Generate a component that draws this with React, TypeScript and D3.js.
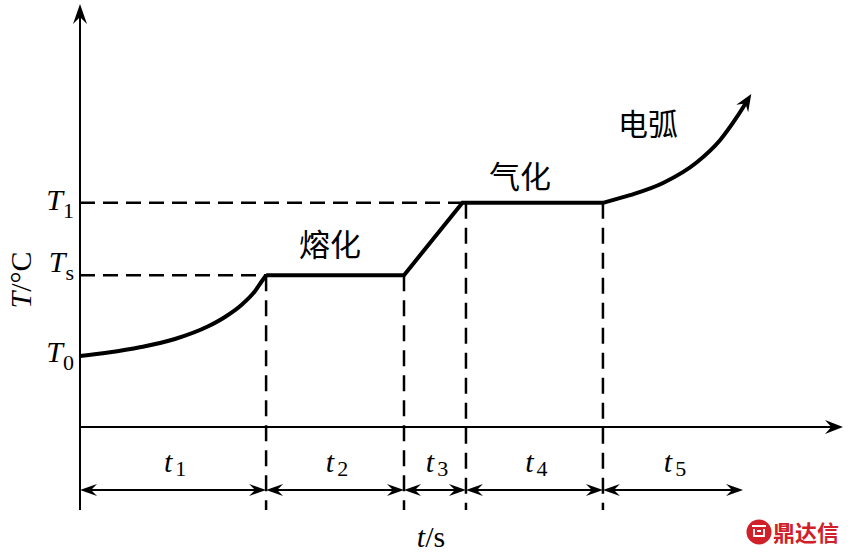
import * as d3 from "d3";

// temperature levels on the y axis (arbitrary units)
const levelNames = ["0", "s", "1"];
const levelTemps = [16.9, 35.9, 53.0];

// end time of each stage t1..t5 (arbitrary units)
const phaseEnds = [10, 17.41, 20.74, 28.1, 35.63];
const phaseSubs = ["1", "2", "3", "4", "5"];
// level reached at each inner boundary (index into levelTemps)
const boundaryLevel = [1, 1, 2, 2];

// heating curve T0 -> Ts
const heatTime = [0, 1.52, 3.28, 5.1, 6.89, 7.79, 8.69, 9.4, 9.76, 10];
const heatTemp = [16.8, 17.6, 18.9, 20.8, 23.8, 26.0, 28.9, 32.1, 34.4, 35.9];

// melting plateau, ramp, vaporisation plateau
const meltTime = [10, 17.41, 20.55, 28.1];
const meltTemp = [35.9, 35.9, 53.0, 53.0];

// arc stage
const arcTime = [28.1, 29.55, 31.33, 33.15, 34.39, 35.3, 35.9];
const arcTemp = [53.0, 54.8, 57.7, 62.6, 67.8, 73.3, 77.5];

const W = 848;
const H = 555;

const x = d3.scaleLinear().domain([0, 41]).range([80, 843]);
const y = d3.scaleLinear().domain([0, 100]).range([427, 4]);

const dimY = 490;
const dimBottom = 510;
// baseline shift of each level label
const labelShift = [6, -3, 7];

const serif = "'Liberation Serif', 'Times New Roman', serif";
const cjk = "'Noto Sans CJK SC', sans-serif";

// stealth style arrow head, tip at (tx,ty) pointing along angle a
function arrowHead(tx: number, ty: number, a: number, len: number, half: number) {
  const c = Math.cos(a);
  const s = Math.sin(a);
  const pt = (u: number, v: number) => [tx + u * c - v * s, ty + u * s + v * c];
  const p = [pt(0, 0), pt(-len, -half), pt(-len * 0.65, 0), pt(-len, half)];
  return `M${p.map((q) => q.join(",")).join("L")}Z`;
}

const pts = (ts: number[], vs: number[]) => ts.map((t, i) => [t, vs[i]] as [number, number]);

export default function App() {
  const smooth = d3
    .line<[number, number]>()
    .x((d) => x(d[0]))
    .y((d) => y(d[1]))
    .curve(d3.curveMonotoneX);
  const straight = d3
    .line<[number, number]>()
    .x((d) => x(d[0]))
    .y((d) => y(d[1]));

  const bounds = [0, ...phaseEnds];

  // arc arrow head direction
  const n = arcTime.length;
  const ax1 = x(arcTime[n - 1]);
  const ay1 = y(arcTemp[n - 1]);
  const ax0 = x(arcTime[n - 2]);
  const ay0 = y(arcTemp[n - 2]);
  const ang = Math.atan2(ay1 - ay0, ax1 - ax0);
  const tipX = ax1 + 6 * Math.cos(ang);
  const tipY = ay1 + 6 * Math.sin(ang);

  return (
    <svg
      width={W}
      height={H}
      style={{ position: "absolute", left: 0, top: 0, background: "#fff" }}
    >
      {/* dashed level guides */}
      <line
        x1={x(0)}
        x2={x(phaseEnds[0])}
        y1={y(levelTemps[1])}
        y2={y(levelTemps[1])}
        stroke="#000"
        strokeWidth={2.5}
        strokeDasharray="15 8"
      />
      <line
        x1={x(0)}
        x2={x(meltTime[2])}
        y1={y(levelTemps[2])}
        y2={y(levelTemps[2])}
        stroke="#000"
        strokeWidth={2.5}
        strokeDasharray="15 8"
      />

      {/* dashed stage boundaries */}
      {phaseEnds.slice(0, 4).map((t, i) => (
        <line
          key={i}
          x1={x(t)}
          x2={x(t)}
          y1={y(levelTemps[boundaryLevel[i]])}
          y2={dimBottom}
          stroke="#000"
          strokeWidth={2.5}
          strokeDasharray="16 9"
        />
      ))}

      {/* axes */}
      <line x1={x(0)} x2={x(0)} y1={dimBottom} y2={y(100) + 12} stroke="#000" strokeWidth={2} />
      <path d={arrowHead(x(0), y(100), -Math.PI / 2, 20, 7)} fill="#000" />
      <line x1={x(0)} x2={x(41) - 10} y1={y(0)} y2={y(0)} stroke="#000" strokeWidth={2} />
      <path d={arrowHead(x(41), y(0), 0, 18, 7)} fill="#000" />

      {/* temperature curve */}
      <path d={smooth(pts(heatTime, heatTemp)) ?? ""} fill="none" stroke="#000" strokeWidth={4} />
      <path
        d={straight(pts(meltTime, meltTemp)) ?? ""}
        fill="none"
        stroke="#000"
        strokeWidth={4}
        strokeLinejoin="miter"
      />
      <path d={smooth(pts(arcTime, arcTemp)) ?? ""} fill="none" stroke="#000" strokeWidth={4} />
      <path d={arrowHead(tipX, tipY, ang, 17, 7)} fill="#000" />

      {/* dimension arrows */}
      {phaseEnds.map((t, i) => {
        const a = x(bounds[i]);
        const b = x(t);
        return (
          <g key={i}>
            <line x1={a + 6} x2={b - 6} y1={dimY} y2={dimY} stroke="#000" strokeWidth={2} />
            <path d={arrowHead(a, dimY, Math.PI, 17, 6)} fill="#000" />
            <path d={arrowHead(b, dimY, 0, 17, 6)} fill="#000" />
            <text
              x={(a + b) / 2 + 2}
              y={472}
              textAnchor="middle"
              fontFamily={serif}
              fontSize={30}
            >
              <tspan fontStyle="italic">t</tspan>
              <tspan fontSize={22} dx={3} dy={4}>
                {phaseSubs[i]}
              </tspan>
            </text>
          </g>
        );
      })}

      {/* y level labels */}
      {levelNames.map((name, i) => (
        <text
          key={name}
          x={74}
          y={y(levelTemps[i]) + labelShift[i]}
          textAnchor="end"
          fontFamily={serif}
          fontSize={30}
        >
          <tspan fontStyle="italic">T</tspan>
          <tspan fontSize={22} dy={8}>
            {name}
          </tspan>
        </text>
      ))}

      {/* axis titles */}
      <text
        transform="translate(31,280) rotate(-90)"
        textAnchor="middle"
        fontFamily={serif}
        fontSize={30}
      >
        <tspan fontStyle="italic">T</tspan>/°C
      </text>
      <text x={431} y={547} textAnchor="middle" fontFamily={serif} fontSize={30}>
        <tspan fontStyle="italic">t</tspan>/s
      </text>

      {/* stage names */}
      <text x={330} y={256} textAnchor="middle" fontFamily={cjk} fontSize={31}>
        熔化
      </text>
      <text x={520} y={188} textAnchor="middle" fontFamily={cjk} fontSize={31}>
        气化
      </text>
      <text x={648} y={135} textAnchor="middle" fontFamily={cjk} fontSize={30}>
        电弧
      </text>

      {/* watermark */}
      <circle cx={759} cy={532} r={12.5} fill="#d0202a" />
      <path d="M752,526 L766,526 M754,529 L754,536 L764,536 L764,529 M757,531 L761,531" stroke="#fff" strokeWidth={1.8} fill="none" />
      <text
        x={806}
        y={541}
        textAnchor="middle"
        fontFamily={cjk}
        fontWeight="bold"
        fontSize={22}
        fill="#d0202a"
      >
        鼎达信
      </text>
    </svg>
  );
}
